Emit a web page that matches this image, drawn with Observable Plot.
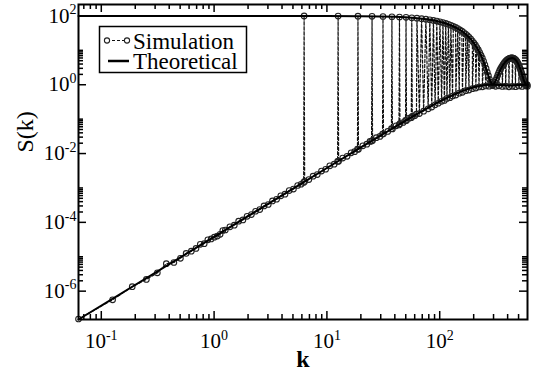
<!DOCTYPE html>
<html>
<head>
<meta charset="utf-8">
<script src="https://cdn.jsdelivr.net/npm/d3@7"></script>
<script src="https://cdn.jsdelivr.net/npm/@observablehq/plot@0.6"></script>
<style>
  body { margin: 0; background: #fff; }
  #chart { width: 537px; height: 372px; }
</style>
</head>
<body>
<div id="chart"></div>
<script>
// Simulated S(k): points on the smooth background branch
const lowK = [0.0628, 0.126, 0.188, 0.251, 0.314, 0.377, 0.440, 0.503, 0.565, 0.628, 0.691, 0.754, 0.817, 0.880, 0.942, 1.005, 1.068, 1.131, 1.194, 1.257,
  1.38, 1.51, 1.65, 1.80, 1.96, 2.14, 2.33, 2.54, 2.77, 3.02, 3.29, 3.58, 3.90, 4.25, 4.63, 5.05, 5.50, 5.90, 6.22, 6.35,
  6.92, 7.54, 8.21, 8.95, 9.75, 10.6, 11.6, 12.44, 12.70, 13.8, 15.1, 16.4, 17.6, 18.66, 19.04, 20.8, 22.6, 24.1, 24.88, 25.38,
  27.4, 29.5, 31.11, 31.73, 34.6, 37.32, 38.08, 41.0, 43.54, 44.42, 47.4, 49.77, 50.77, 53.7, 55.98, 57.12, 60.0, 62.2, 66, 72,
  79, 85, 91, 97, 104, 110, 116, 123, 130, 139, 149, 159, 170, 182, 195, 209, 223, 239, 256, 274,
  293, 313, 335, 359, 384, 411, 440, 470, 503, 538, 576, 599];
const lowS = [1.55e-7, 5.6e-7, 1.35e-6, 2.2e-6, 3.4e-6, 6.3e-6, 6.8e-6, 9.0e-6, 1.25e-5, 1.45e-5, 1.75e-5, 2.3e-5, 2.4e-5, 3.1e-5, 3.3e-5, 3.7e-5, 4.0e-5, 4.5e-5, 5.8e-5, 6.0e-5,
  7.4e-5, 8.3e-5, 1.08e-4, 1.18e-4, 1.5e-4, 1.68e-4, 2.1e-4, 2.35e-4, 3.0e-4, 3.3e-4, 4.2e-4, 4.7e-4, 5.9e-4, 6.6e-4, 8.4e-4, 9.3e-4, 1.18e-3, 1.28e-3, 1.45e-3, 1.55e-3,
  1.75e-3, 2.2e-3, 2.45e-3, 3.1e-3, 3.5e-3, 4.4e-3, 4.9e-3, 5.9e-3, 6.0e-3, 7.4e-3, 8.3e-3, 1.05e-2, 1.13e-2, 1.34e-2, 1.33e-2, 1.68e-2, 1.87e-2, 2.25e-2, 2.3e-2, 2.4e-2,
  2.9e-2, 3.15e-2, 3.7e-2, 3.75e-2, 4.4e-2, 5.3e-2, 5.2e-2, 6.4e-2, 6.8e-2, 7.4e-2, 8.0e-2, 9.2e-2, 9.1e-2, 0.107, 0.110, 0.120, 0.126, 0.140, 0.145, 0.17,
  0.20, 0.225, 0.26, 0.29, 0.33, 0.35, 0.40, 0.42, 0.47, 0.50, 0.57, 0.60, 0.67, 0.70, 0.77, 0.80, 0.86, 0.87, 0.92, 0.91,
  0.94, 0.90, 0.93, 0.89, 0.91, 0.87, 0.90, 0.88, 0.92, 0.89, 0.93, 0.91];

// Simulated S(k): Bragg peaks at k = 2πm
const peakK = [6.28, 12.57, 18.85, 25.13, 31.42, 37.70, 43.98, 50.27, 56.55, 62.83,
  69.12, 75.40, 81.68, 87.96, 94.25, 100.53, 106.81, 113.10, 119.38, 125.66,
  131.95, 138.23, 144.51, 150.80, 157.08, 163.36, 169.65, 175.93, 182.21, 188.50,
  194.78, 201.06, 207.35, 213.63, 219.91, 226.19, 232.48, 238.76, 245.04, 251.33,
  257.61, 263.89, 270.18, 276.46, 282.74, 289.03, 295.31, 301.59, 307.88, 314.16,
  320.44, 326.73, 333.01, 339.29, 345.58, 351.86, 358.14, 364.42, 370.71, 376.99,
  383.27, 389.56, 395.84, 402.12, 408.41, 414.69, 420.97, 427.26, 433.54, 439.82,
  446.11, 452.39, 458.67, 464.96, 471.24, 477.52, 483.81, 490.09, 496.37, 502.65,
  508.94, 515.22, 521.50, 527.79, 534.07, 540.35, 546.64, 552.92, 559.20, 565.49,
  571.77, 578.05, 584.34, 590.62, 596.90];
const peakS = [99.9, 99.4, 98.7, 97.7, 96.4, 94.8, 93.0, 90.9, 88.6, 86.1,
  83.4, 80.5, 77.4, 74.2, 70.9, 67.5, 64.0, 60.5, 56.9, 53.3,
  49.8, 46.2, 42.8, 39.3, 36.0, 32.8, 29.7, 26.7, 23.9, 21.2,
  18.7, 16.3, 14.1, 12.1, 10.3, 8.6, 7.2, 5.9, 4.8, 3.8,
  3.0, 2.35, 1.84, 1.44, 1.19, 1.04, 1.0, 1.05, 1.17, 1.36,
  1.61, 1.90, 2.22, 2.56, 2.92, 3.2, 3.5, 3.85, 4.2, 4.5,
  4.8, 5.05, 5.3, 5.5, 5.65, 5.8, 5.9, 5.95, 6.0, 6.0,
  5.95, 5.85, 5.7, 5.5, 5.25, 5.0, 4.7, 4.4, 4.05, 3.7,
  3.35, 3.0, 2.7, 2.4, 2.1, 1.85, 1.62, 1.43, 1.28, 1.16,
  1.08, 1.03, 1.01, 1.0, 1.0];

// Theoretical S(k): background branch
const theoryLowK = [0.0628, 1, 10, 20, 30, 40, 50, 60, 70, 80, 90, 100, 120, 140, 160, 180, 200, 220, 240, 260, 280, 300, 340, 380, 420, 460, 500, 540, 600];
const theoryLowS = [1.5e-7, 3.8e-5, 3.8e-3, 0.0151, 0.0335, 0.059, 0.091, 0.129, 0.172, 0.219, 0.271, 0.326, 0.439, 0.553, 0.662, 0.759, 0.842, 0.907, 0.953, 0.983, 0.997, 1.0, 0.984, 0.962, 0.953, 0.96, 0.977, 0.992, 1.0];

// Theoretical S(k): peak envelope
const theoryUpK = [0.0628, 1, 10, 20, 30, 40, 50, 60, 70, 80, 90, 100, 110, 120, 130, 140, 150, 160, 170, 180, 190, 200, 210, 220, 230, 240, 250, 260, 270, 280, 290, 295, 300, 310, 320, 340, 360, 380, 400, 420, 440, 460, 480, 500, 520, 540, 560, 580, 590, 600];
const theoryUpS = [100, 100, 99.6, 98.5, 96.7, 94.2, 91, 87.2, 83, 78.3, 73.2, 67.8, 62.3, 56.5, 50.9, 45.3, 39.8, 34.5, 29.5, 24.8, 20.6, 16.7, 13.2, 10.2, 7.7, 5.6, 4.0, 2.7, 1.83, 1.28, 1.03, 1.0, 1.03, 1.23, 1.59, 2.5, 3.55, 4.6, 5.35, 5.8, 6.0, 5.7, 4.9, 3.85, 2.75, 1.85, 1.27, 1.02, 1.0, 1.0];

// Axis ticks
const xMajor = [0.1, 1, 10, 100];
const xMajorExp = ["-1", "0", "1", "2"];
const xMinor = [0.07, 0.08, 0.09, 0.2, 0.3, 0.4, 0.5, 0.6, 0.7, 0.8, 0.9, 2, 3, 4, 5, 6, 7, 8, 9, 20, 30, 40, 50, 60, 70, 80, 90, 200, 300, 400, 500];
const yMajor = [1e-6, 1e-4, 1e-2, 1, 100];
const yMajorExp = ["-6", "-4", "-2", "0", "2"];
const yMinor = [2e-6, 3e-6, 4e-6, 5e-6, 6e-6, 7e-6, 8e-6, 9e-6, 1e-5,
  2e-4, 3e-4, 4e-4, 5e-4, 6e-4, 7e-4, 8e-4, 9e-4, 1e-3,
  2e-2, 3e-2, 4e-2, 5e-2, 6e-2, 7e-2, 8e-2, 9e-2, 1e-1,
  2, 3, 4, 5, 6, 7, 8, 9, 10];

const sim = lowK.map((k, i) => ({k, S: lowS[i]}))
  .concat(peakK.map((k, i) => ({k, S: peakS[i]})))
  .sort((a, b) => a.k - b.k);
const theoryLow = theoryLowK.map((k, i) => ({k, S: theoryLowS[i]}));
const theoryUp = theoryUpK.map((k, i) => ({k, S: theoryUpS[i]}));

const serif = "Liberation Serif, Times New Roman, serif";
const width = 537, height = 372;
const mL = 78, mR = 10, mT = 4, mB = 53;
const fw = width - mL - mR, fh = height - mT - mB;
const major = 8, minor = 5;

const plot = Plot.plot({
  width, height,
  marginLeft: mL, marginRight: mR, marginTop: mT, marginBottom: mB,
  style: {fontFamily: serif, background: "white", overflow: "visible"},
  x: {type: "log", domain: [0.0628, 600], axis: null},
  y: {type: "log", domain: [1.5e-7, 215], axis: null},
  marks: [
    Plot.line(sim, {x: "k", y: "S", stroke: "#111", strokeWidth: 1.2, strokeDasharray: "3,2"}),
    Plot.dot(sim, {x: "k", y: "S", r: 2.8, stroke: "#222", strokeWidth: 1.1, fill: "none"}),
    Plot.line(theoryLow, {x: "k", y: "S", stroke: "black", strokeWidth: 2}),
    Plot.line(theoryUp, {x: "k", y: "S", stroke: "black", strokeWidth: 2}),
    // ticks on all four sides, pointing inward
    Plot.ruleX(xMajor, {x: d => d, insetTop: fh - major, strokeWidth: 1.5}),
    Plot.ruleX(xMajor, {x: d => d, insetBottom: fh - major, strokeWidth: 1.5}),
    Plot.ruleX(xMinor, {x: d => d, insetTop: fh - minor, strokeWidth: 1.5}),
    Plot.ruleX(xMinor, {x: d => d, insetBottom: fh - minor, strokeWidth: 1.5}),
    Plot.ruleY(yMajor, {y: d => d, insetRight: fw - major, strokeWidth: 1.5}),
    Plot.ruleY(yMajor, {y: d => d, insetLeft: fw - major, strokeWidth: 1.5}),
    Plot.ruleY(yMinor, {y: d => d, insetRight: fw - minor, strokeWidth: 1.5}),
    Plot.ruleY(yMinor, {y: d => d, insetLeft: fw - minor, strokeWidth: 1.5}),
    // tick labels (exponents added below)
    Plot.text(xMajor, {x: d => d, frameAnchor: "bottom", dy: 28, lineAnchor: "bottom",
      text: () => "10", fontSize: 21, fontFamily: serif, fill: "black", ariaDescription: "x tick labels"}),
    Plot.text(yMajor, {y: d => d, frameAnchor: "left", dx: -2, textAnchor: "end", lineAnchor: "middle",
      text: () => "10", fontSize: 21, fontFamily: serif, fill: "black", ariaDescription: "y tick labels"}),
    // axis titles
    Plot.text(["k"], {frameAnchor: "bottom", dy: 47, lineAnchor: "bottom", text: d => d,
      fontSize: 24, fontWeight: "bold", fontFamily: serif, fill: "black"}),
    Plot.text(["S(k)"], {frameAnchor: "left", dx: -53, dy: -9.5, rotate: -90, lineAnchor: "middle", text: d => d,
      fontSize: 24, fontFamily: serif, fill: "black"}),
    Plot.frame({stroke: "black", strokeWidth: 2})
  ]
});

const svg = d3.select(plot);
svg.selectAll('g[aria-description="x tick labels"] text').each(function (_, i) {
  d3.select(this).append("tspan").attr("dy", "-0.55em").attr("font-size", 14).text(xMajorExp[i]);
});
svg.selectAll('g[aria-description="y tick labels"] text').each(function (_, i) {
  d3.select(this).append("tspan").attr("dy", "-0.6em").attr("font-size", 14).text(yMajorExp[i]);
});

// legend
const lg = svg.append("g").attr("font-family", serif).attr("font-size", 23)
  .attr("fill", "black").attr("text-anchor", "start");
lg.append("rect").attr("x", 99.5).attr("y", 26.5).attr("width", 147).attr("height", 46)
  .attr("fill", "white").attr("stroke", "black").attr("stroke-width", 1.5);
lg.append("line").attr("x1", 107).attr("x2", 127).attr("y1", 40.5).attr("y2", 40.5)
  .attr("stroke", "#111").attr("stroke-width", 1.2).attr("stroke-dasharray", "3,2");
[107, 127].forEach(cx => lg.append("circle").attr("cx", cx).attr("cy", 40.5).attr("r", 2.6)
  .attr("fill", "white").attr("stroke", "#222").attr("stroke-width", 1.1));
lg.append("text").attr("x", 133).attr("y", 48.5).text("Simulation");
lg.append("line").attr("x1", 108).attr("x2", 129).attr("y1", 61).attr("y2", 61)
  .attr("stroke", "black").attr("stroke-width", 2.5);
lg.append("text").attr("x", 133).attr("y", 69).text("Theoretical");

document.getElementById("chart").appendChild(plot);
</script>
</body>
</html>
